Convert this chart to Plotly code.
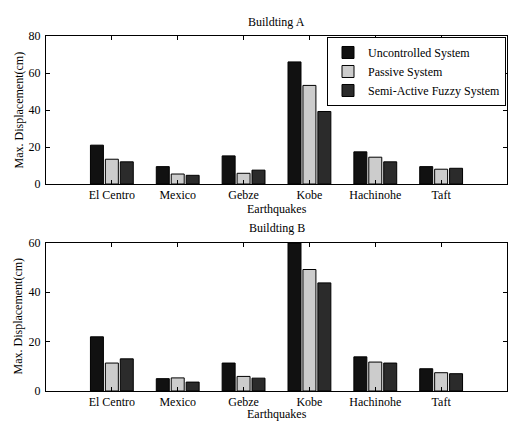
import plotly.graph_objects as go

earthquakes = ["El Centro", "Mexico", "Gebze", "Kobe", "Hachinohe", "Taft"]
series_names = ["Uncontrolled System", "Passive System", "Semi-Active Fuzzy System"]
building_a = {
    "Uncontrolled System": [21.0, 9.4, 15.2, 66.0, 17.4, 9.4],
    "Passive System": [13.4, 5.4, 5.8, 53.3, 14.5, 8.0],
    "Semi-Active Fuzzy System": [12.0, 4.7, 7.5, 39.2, 12.0, 8.5],
}
building_b = {
    "Uncontrolled System": [21.9, 5.0, 11.3, 59.8, 13.8, 9.0],
    "Passive System": [11.3, 5.3, 5.9, 49.1, 11.7, 7.4],
    "Semi-Active Fuzzy System": [13.0, 3.6, 5.2, 43.7, 11.3, 7.0],
}
titles = ["Buildting A", "Buildting B"]
y_ticks_a = [0, 20, 40, 60, 80]
y_ticks_b = [0, 20, 40, 60]

colors = ["#111111", "#cccccc", "#2b2b2b"]
FONT = "Liberation Serif"

fig = go.Figure()
for i, name in enumerate(series_names):
    fig.add_trace(go.Bar(x=earthquakes, y=building_a[name], name=name,
                         marker=dict(color=colors[i], line=dict(color="#000000", width=1)),
                         xaxis="x", yaxis="y", showlegend=True))
for i, name in enumerate(series_names):
    fig.add_trace(go.Bar(x=earthquakes, y=building_b[name], name=name,
                         marker=dict(color=colors[i], line=dict(color="#000000", width=1)),
                         xaxis="x2", yaxis="y2", showlegend=False))

W, H = 508, 428
x0, x1 = 46 / W, 507 / W
axis_common = dict(showline=True, linecolor="black", linewidth=1, mirror="ticks",
                   ticks="inside", ticklen=4, tickcolor="black", showgrid=False,
                   zeroline=False, tickfont=dict(family=FONT, size=12, color="black"))

fig.update_layout(
    width=W, height=H, margin=dict(l=0, r=0, t=0, b=0),
    paper_bgcolor="white", plot_bgcolor="white",
    barmode="group", bargap=0.32, bargroupgap=0.13,
    font=dict(family=FONT, size=12, color="black"),
    xaxis=dict(domain=[x0, x1], anchor="y", range=[-1, 6], **axis_common),
    yaxis=dict(domain=[1 - 183 / H, 1 - 30 / H], anchor="x", range=[0, 80],
               tickvals=y_ticks_a, ticklabelstandoff=2, **axis_common),
    xaxis2=dict(domain=[x0, x1], anchor="y2", range=[-1, 6], **axis_common),
    yaxis2=dict(domain=[1 - 397 / H, 1 - 243.5 / H], anchor="x2", range=[0, 60],
                tickvals=y_ticks_b, ticklabelstandoff=2, **axis_common),
    legend=dict(x=327 / W, y=1 - 31 / H, xanchor="left", yanchor="top",
                bgcolor="white", bordercolor="black", borderwidth=1,
                font=dict(family=FONT, size=12, color="black"),
                tracegroupgap=0, itemwidth=30),
    showlegend=True,
)

xc = (46 + 507) / 2 / W
ann = [
    dict(text=titles[0], x=xc, y=1 - 15 / H),
    dict(text=titles[1], x=xc, y=1 - 228 / H),
    dict(text="Earthquakes", x=xc, y=1 - 209 / H),
    dict(text="Earthquakes", x=xc, y=1 - 421 / H),
    dict(text="Max. Displacement(cm)", x=18 / W, y=1 - 107 / H, textangle=-90),
    dict(text="Max. Displacement(cm)", x=18 / W, y=1 - 320 / H, textangle=-90),
]
for a in ann:
    fig.add_annotation(xref="paper", yref="paper", showarrow=False,
                       xanchor="center", yanchor="middle",
                       font=dict(family=FONT, size=12, color="black"), **a)

fig.write_html("out.html")
